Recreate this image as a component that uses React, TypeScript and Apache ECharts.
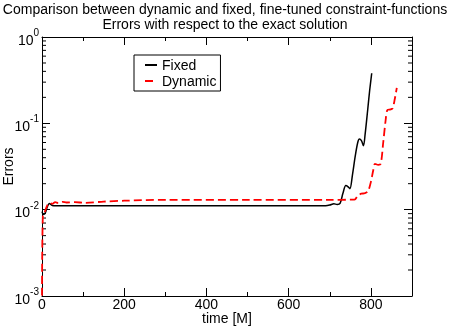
import React, { useEffect, useRef } from "react";
import * as echarts from "echarts";

const titleLines = [
  "Comparison between dynamic and fixed, fine-tuned constraint-functions",
  "Errors with respect to the exact solution",
];
const xAxisName = "time [M]";
const yAxisName = "Errors";

const fixedTime = [0, 3, 8, 13, 18, 25, 35, 100, 300, 500, 690, 700, 710, 718, 725, 732, 739, 744, 749, 755, 762, 768, 772, 777, 782, 786, 792, 797, 802];
const fixedError = [0.0095, 0.0088, 0.0092, 0.0108, 0.0118, 0.0112, 0.0111, 0.0111, 0.0111, 0.0111, 0.0111, 0.0113, 0.0117, 0.0115, 0.0118, 0.0155, 0.019, 0.0185, 0.0175, 0.025, 0.042, 0.06, 0.066, 0.063, 0.055, 0.075, 0.14, 0.24, 0.38];

const dynamicTime = [0, 2, 6, 12, 18, 25, 32, 40, 50, 60, 80, 105, 150, 200, 300, 500, 700, 760, 768, 777, 785, 793, 800, 806, 810, 818, 824, 830, 836, 840, 848, 853, 858, 863];
const dynamicError = [0.00101, 0.0085, 0.0092, 0.011, 0.012, 0.0117, 0.0122, 0.0119, 0.0123, 0.0121, 0.0122, 0.012, 0.0124, 0.0127, 0.013, 0.013, 0.013, 0.0131, 0.0145, 0.0153, 0.0155, 0.0163, 0.021, 0.029, 0.034, 0.033, 0.034, 0.06, 0.11, 0.142, 0.145, 0.15, 0.19, 0.257];

const yDecades = [0.001, 0.01, 0.1];
const yMinorMultipliers = [2, 3, 4, 5, 6, 7, 8, 9];

const FONT = "Liberation Sans";

export default function App() {
  const ref = useRef<HTMLDivElement>(null);
  useEffect(() => {
    const chart = echarts.init(ref.current!, null, { renderer: "svg" });
    const minorY: number[][] = [];
    yDecades.forEach((d) => yMinorMultipliers.forEach((m) => minorY.push([0, d * m])));

    const baseX = {
      type: "value",
      min: 0,
      max: 900,
      splitLine: { show: false },
      axisLine: { show: true, onZero: false, lineStyle: { color: "#000", width: 1 } },
    };
    const baseY = {
      type: "log",
      logBase: 10,
      min: 0.001,
      max: 1,
      splitNumber: 3,
      splitLine: { show: false },
      axisLine: { show: true, onZero: false, lineStyle: { color: "#000", width: 1 } },
    };

    const option: any = {
      animation: false,
      textStyle: { fontFamily: FONT },
      title: {
        text: titleLines.join("\n"),
        left: "center",
        top: 1,
        padding: 0,
        textStyle: { fontFamily: FONT, fontSize: 14, fontWeight: "normal", color: "#000", lineHeight: 15 },
      },
      legend: {
        data: ["Fixed", "Dynamic"],
        orient: "vertical",
        left: 134,
        top: 55,
        borderColor: "#000",
        borderWidth: 1,
        borderRadius: 0,
        padding: [3, 4, 3, 10],
        itemGap: 2,
        itemWidth: 12,
        itemHeight: 12,
        itemStyle: { opacity: 0 },
        textStyle: { fontFamily: FONT, fontSize: 14, color: "#000" },
      },
      grid: { left: 42, right: 38, top: 37, bottom: 31, containLabel: false, outerBoundsMode: "none" },
      xAxis: [
        {
          ...baseX,
          position: "bottom",
          interval: 200,
          name: xAxisName,
          nameLocation: "middle",
          nameGap: 16,
          nameMoveOverlap: false,
          nameTextStyle: { fontFamily: FONT, fontSize: 14, color: "#000", lineHeight: 12 },
          axisTick: { show: true, inside: true, length: 8, lineStyle: { color: "#000" } },
          axisLabel: { margin: 2, fontSize: 14, lineHeight: 12, color: "#000", fontFamily: FONT, showMaxLabel: false },
        },
        {
          ...baseX,
          position: "bottom",
          interval: 100,
          axisLine: { show: false },
          axisTick: { show: true, inside: true, length: 4, lineStyle: { color: "#000" } },
          axisLabel: { show: false },
        },
        {
          ...baseX,
          position: "top",
          interval: 200,
          axisTick: { show: true, inside: true, length: 8, lineStyle: { color: "#000" } },
          axisLabel: { show: false },
        },
        {
          ...baseX,
          position: "top",
          interval: 100,
          axisLine: { show: false },
          axisTick: { show: true, inside: true, length: 4, lineStyle: { color: "#000" } },
          axisLabel: { show: false },
        },
      ],
      yAxis: [
        {
          ...baseY,
          position: "left",
          name: yAxisName,
          nameLocation: "middle",
          nameGap: 27,
          nameRotate: 90,
          nameMoveOverlap: false,
          nameTextStyle: { fontFamily: FONT, fontSize: 14, color: "#000" },
          axisTick: { show: true, inside: true, length: 8, lineStyle: { color: "#000" } },
          axisLabel: {
            margin: 3,
            color: "#000",
            formatter: (v: number) => `{b|10}{s|${Math.round(Math.log10(v))}}`,
            rich: {
              b: { fontSize: 14, fontFamily: FONT, color: "#000", verticalAlign: "bottom" },
              s: { fontSize: 10, fontFamily: FONT, color: "#000", verticalAlign: "bottom", padding: [0, 0, 9, 0] },
            },
          },
        },
        {
          ...baseY,
          position: "right",
          axisTick: { show: true, inside: true, length: 8, lineStyle: { color: "#000" } },
          axisLabel: { show: false },
        },
      ],
      series: [
        {
          name: "Fixed",
          type: "line",
          xAxisIndex: 0,
          yAxisIndex: 0,
          showSymbol: false,
          symbol: "none",
          smooth: 0.3,
          data: fixedTime.map((t, i) => [t, fixedError[i]]),
          lineStyle: { color: "#000", width: 1.5 },
          itemStyle: { color: "#000" },
        },
        {
          name: "Dynamic",
          type: "line",
          xAxisIndex: 0,
          yAxisIndex: 0,
          showSymbol: false,
          symbol: "none",
          smooth: 0.3,
          data: dynamicTime.map((t, i) => [t, dynamicError[i]]),
          lineStyle: { color: "#ff0000", width: 1.8, type: [8, 4] },
          itemStyle: { color: "#ff0000" },
        },
        {
          name: "minorY",
          type: "custom",
          xAxisIndex: 0,
          yAxisIndex: 0,
          silent: true,
          clip: false,
          data: minorY,
          renderItem: (params: any, api: any) => {
            const p = api.coord([0, api.value(1)]);
            const cs = params.coordSys;
            const y = p[1];
            return {
              type: "group",
              children: [
                { type: "line", shape: { x1: cs.x, y1: y, x2: cs.x + 4, y2: y }, style: { stroke: "#000", lineWidth: 1 } },
                { type: "line", shape: { x1: cs.x + cs.width - 4, y1: y, x2: cs.x + cs.width, y2: y }, style: { stroke: "#000", lineWidth: 1 } },
              ],
            };
          },
        },
      ],
    };
    chart.setOption(option);
    return () => chart.dispose();
  }, []);
  return <div ref={ref} style={{ position: "fixed", left: 0, top: 0, width: 450, height: 327 }} />;
}
